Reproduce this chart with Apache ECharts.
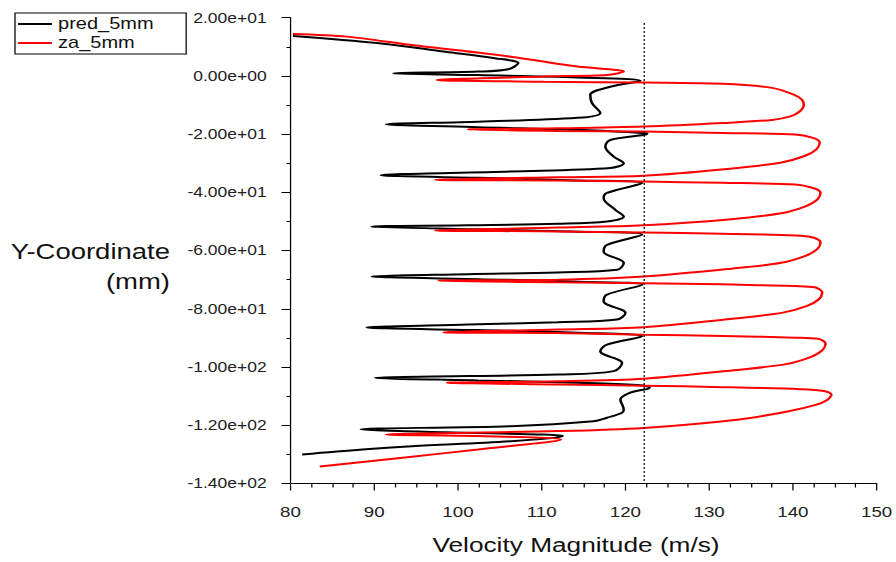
<!DOCTYPE html>
<html>
<head>
<meta charset="utf-8">
<script src="https://cdn.jsdelivr.net/npm/echarts@6/dist/echarts.min.js"></script>
<style>
  html, body { margin: 0; padding: 0; background: #fff; overflow: hidden; }
  #wrap { width: 896px; height: 562px; overflow: hidden; }
  /* the plot is laid out at a narrower width and widened horizontally */
  #chart { width: 717px; height: 562px; transform: scaleX(1.2497); transform-origin: 0 0; }
</style>
</head>
<body>
<div id="wrap"><div id="chart"></div></div>
<script>
// Velocity magnitude (m/s) along the sampling line, paired with Y-coordinate (mm)
const predVelocity = [
  80.3, 90.6, 98.5, 104.4, 107.2, 106.0, 102.4, 92.3, 102.4, 114.3, 121.8,
  118.2, 115.8, 116.0, 117.0, 114.3, 102.4, 91.4, 102.4, 114.3, 122.2, 122.6,
  118.2, 117.6, 118.6, 119.8, 118.2, 106.3, 90.8, 102.4, 114.3, 122.0,
  117.8, 117.4, 118.8, 119.8, 117.8, 111.9, 101.2, 89.7, 102.4, 114.3, 122.0,
  117.8, 117.4, 119.8, 119.0, 111.9, 101.2, 89.7, 102.4, 114.3, 122.0,
  117.8, 117.4, 120.0, 119.0, 111.9, 101.2, 89.1, 102.4, 114.3, 122.0,
  117.8, 117.0, 119.6, 118.6, 111.9, 101.2, 90.1, 102.4, 114.3, 121.4, 122.9,
  120.5, 119.4, 119.8, 119.6, 117.8, 116.2, 106.3, 88.4, 98.5, 110.3, 112.5,
  106.3, 94.5, 88.6, 81.4
];
const predY = [
  13.7, 11.2, 8.3, 6.1, 4.4, 2.3, 1.5, 0.9, 0.3, -0.5, -1.7,
  -3.7, -6.5, -9.3, -12.7, -14.4, -15.7, -16.6, -17.6, -18.5, -19.6, -19.8,
  -22.0, -24.3, -27.7, -30.0, -31.6, -32.8, -34.1, -35.0, -35.9, -36.8,
  -40.2, -42.0, -46.0, -48.3, -50.0, -50.8, -51.3, -51.7, -52.7, -53.5, -54.5,
  -58.0, -60.3, -64.3, -66.6, -67.5, -68.1, -68.9, -69.8, -70.7, -71.7,
  -75.1, -77.4, -81.4, -83.7, -84.6, -85.4, -86.4, -87.3, -88.2, -89.4,
  -92.3, -94.6, -98.6, -101.4, -102.6, -103.1, -103.7, -104.6, -105.4, -106.2, -107.1,
  -108.9, -111.2, -114.6, -115.7, -117.4, -118.6, -120.3, -121.4, -122.4, -123.2, -123.7,
  -125.5, -127.2, -128.3, -130.0
];

const zaVelocity = [
  80.3, 86.7, 94.5, 106.3, 114.3, 119.8, 117.8, 110.3, 97.5, 110.3,
  122.2, 131.6, 137.5, 140.1, 141.1, 141.3, 140.8, 139.7, 137.5, 131.6, 122.2,
  111.9, 101.2, 111.9,
  122.2, 131.6, 140.3, 142.3, 143.2, 142.8, 141.4, 138.5, 132.5, 122.2,
  111.9, 97.3, 111.9,
  122.2, 131.6, 140.3, 142.4, 143.3, 142.9, 141.5, 138.6, 132.7, 122.2,
  111.9, 97.3, 111.9,
  122.2, 131.6, 140.3, 142.4, 143.3, 142.9, 141.5, 138.6, 132.7, 122.2,
  111.9, 97.7, 111.9,
  122.2, 131.6, 140.3, 142.6, 143.5, 143.1, 141.7, 138.8, 132.8, 122.2,
  111.9, 98.3, 111.9,
  122.2, 131.6, 140.3, 143.0, 143.9, 143.5, 142.1, 139.2, 133.3, 122.2,
  111.9, 98.7, 111.9,
  122.2, 131.6, 140.9, 143.7, 144.6, 144.1, 142.7, 139.5, 133.6, 122.2,
  111.9, 91.4, 102.4, 112.3, 102.4, 94.5, 83.5
];
const zaY = [
  14.4, 13.5, 10.6, 6.6, 3.2, 1.5, 0.3, -0.2, -1.4, -2.0,
  -2.3, -2.7, -4.1, -6.4, -8.2, -10.0, -12.2, -13.9, -15.1, -16.2, -17.4,
  -18.0, -18.4, -18.9,
  -19.1, -19.6, -20.1, -21.2, -22.8, -25.2, -27.5, -29.8, -31.9, -34.3,
  -34.8, -35.7, -35.9,
  -36.3, -36.7, -37.3, -38.5, -40.1, -42.5, -44.8, -47.2, -49.2, -51.3,
  -52.1, -53.1, -53.4,
  -53.8, -54.2, -54.8, -55.5, -57.1, -59.5, -61.8, -64.2, -66.2, -68.9,
  -70.0, -70.3, -70.9,
  -71.2, -71.6, -72.2, -72.6, -74.3, -76.7, -79.0, -81.3, -83.4, -86.3,
  -87.1, -88.1, -88.3,
  -88.9, -89.3, -89.9, -90.3, -91.9, -94.3, -96.6, -99.0, -101.0, -104.0,
  -104.9, -105.4, -106.0,
  -106.4, -106.9, -107.6, -108.2, -109.4, -111.3, -113.0, -115.2, -118.0, -120.9,
  -122.0, -123.2, -123.7, -124.9, -128.3, -130.8, -134.2
];

// reference velocity marked by the dotted vertical line
const refVelocity = 122.2;
const refTop = 18.2;

const xTicks = { min: 80, max: 150, step: 10 };
const yTicks = { min: -140, max: 20, step: 20 };

const seriesNames = ['pred_5mm', 'za_5mm'];

function pairs(xs, ys) {
  return xs.map((x, i) => [x, ys[i]]);
}

// 2.00e+01 style labels
function sciLabel(v) {
  return v.toExponential(2).replace(/e([+-])(\d)$/, 'e$10$2');
}

const FONT = 'Liberation Sans, Arial, sans-serif';
const chart = echarts.init(document.getElementById('chart'), null, { renderer: 'svg' });

chart.setOption({
  animation: false,
  backgroundColor: '#fff',
  textStyle: { fontFamily: FONT },
  grid: { left: 232.4, right: 11.2, top: 17.7, bottom: 78.5, containLabel: false },
  legend: {
    data: seriesNames,
    orient: 'vertical',
    left: 12,
    top: 13,
    icon: 'rect',
    itemWidth: 27,
    itemHeight: 2,
    itemGap: 3,
    padding: [3, 26, 3, 2.5],
    borderColor: '#000',
    borderWidth: 1,
    textStyle: { fontSize: 16, color: '#111', fontFamily: FONT }
  },
  xAxis: {
    type: 'value',
    min: xTicks.min,
    max: xTicks.max,
    interval: xTicks.step,
    axisLine: { show: true, onZero: false, lineStyle: { color: '#000', width: 1 } },
    axisTick: { show: true, length: 7, lineStyle: { color: '#000', width: 1 } },
    minorTick: { show: true, splitNumber: 4, length: 4, lineStyle: { color: '#000', width: 1 } },
    splitLine: { show: false },
    axisLabel: { margin: 21, fontSize: 15, color: '#222', fontFamily: FONT },
    name: 'Velocity Magnitude (m/s)',
    nameLocation: 'middle',
    nameGap: 50,
    nameTextStyle: { fontSize: 21, color: '#111', fontFamily: FONT, padding: [0, 12, 0, 0] }
  },
  yAxis: {
    type: 'value',
    min: yTicks.min,
    max: yTicks.max,
    interval: yTicks.step,
    axisLine: { show: true, onZero: false, lineStyle: { color: '#000', width: 1 } },
    axisTick: { show: true, length: 7.2, lineStyle: { color: '#000', width: 1 } },
    minorTick: { show: true, splitNumber: 2, length: 3.2, lineStyle: { color: '#000', width: 1 } },
    splitLine: { show: false },
    axisLabel: { margin: 19, fontSize: 14, color: '#222', fontFamily: FONT, formatter: sciLabel },
    // leading blank line keeps the title block below the axis midpoint
    name: '\nY-Coordinate\n(mm)',
    nameLocation: 'middle',
    nameRotate: 0,
    nameGap: 96.4,
    nameTextStyle: { fontSize: 22, lineHeight: 30, align: 'right', verticalAlign: 'middle', color: '#111', fontFamily: FONT }
  },
  series: [
    {
      name: seriesNames[0],
      type: 'line',
      data: pairs(predVelocity, predY),
      symbol: 'none',
      showSymbol: false,
      smooth: 0.35,
      clip: false,
      lineStyle: { color: '#000', width: 2 },
      itemStyle: { color: '#000' }
    },
    {
      name: seriesNames[1],
      type: 'line',
      data: pairs(zaVelocity, zaY),
      symbol: 'none',
      showSymbol: false,
      smooth: 0.3,
      clip: false,
      lineStyle: { color: '#ff0000', width: 2 },
      itemStyle: { color: '#ff0000' },
      markLine: {
        silent: true,
        symbol: ['none', 'none'],
        label: { show: false },
        lineStyle: { color: '#000', width: 1, type: [2, 2] },
        data: [[{ coord: [refVelocity, refTop] }, { coord: [refVelocity, yTicks.min] }]]
      }
    }
  ]
});
</script>
</body>
</html>
